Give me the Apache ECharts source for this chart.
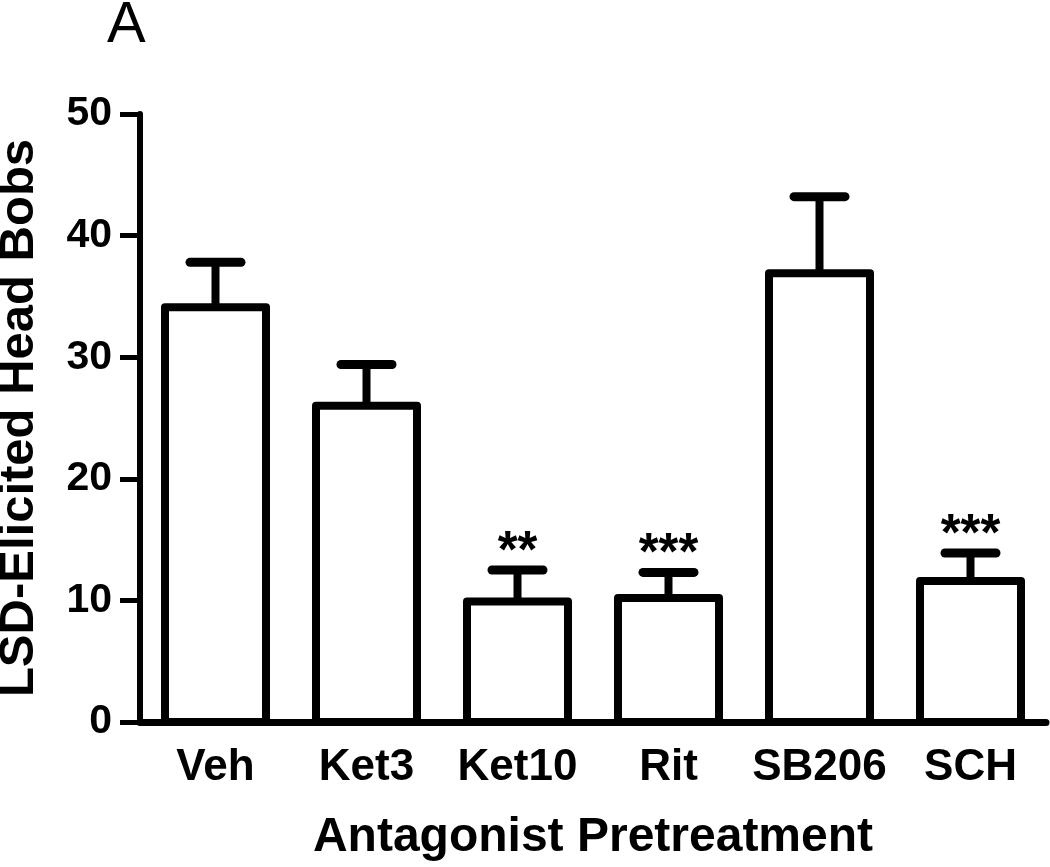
<!DOCTYPE html>
<html><head><meta charset="utf-8">
<script src="https://cdn.jsdelivr.net/npm/echarts@6/dist/echarts.min.js"></script>
<style>html,body{margin:0;padding:0;background:#fff}#c{width:1050px;height:867px}</style>
</head><body><div id="c"></div>
<script>
const categories = ['Veh', 'Ket3', 'Ket10', 'Rit', 'SB206', 'SCH'];
const means = [34.1, 26.0, 9.9, 10.2, 36.9, 11.6];
const errors = [3.7, 3.4, 2.6, 2.1, 6.3, 2.3];
const stars = ['', '', '**', '***', '', '***'];
const yTicks = [0, 10, 20, 30, 40, 50];

const FONT = '"Liberation Sans", Arial, Helvetica, sans-serif';
const chart = echarts.init(document.getElementById('c'));
chart.setOption({
  animation: false,
  backgroundColor: '#fff',
  title: { text: 'A', left: 102, top: -8, textStyle: { fontFamily: FONT, fontSize: 58, fontWeight: 'normal', color: '#000' } },
  grid: { left: 140, right: 4, top: 114, bottom: 145, containLabel: false, outerBoundsMode: 'none' },
  xAxis: {
    type: 'category', data: categories,
    axisLine: { lineStyle: { color: '#000', width: 7 } },
    axisTick: { alignWithLabel: true, interval: 0, length: 20, lineStyle: { color: '#000', width: 5 } },
    axisLabel: { interval: 0, hideOverlap: false, margin: 24, fontFamily: FONT, fontWeight: 'bold', fontSize: 44, color: '#000' },
    name: 'Antagonist Pretreatment', nameLocation: 'middle', nameGap: 92,
    nameTextStyle: { fontFamily: FONT, fontWeight: 'bold', fontSize: 48, color: '#000' }
  },
  yAxis: {
    type: 'value', min: yTicks[0], max: yTicks[yTicks.length - 1], interval: 10,
    splitLine: { show: false },
    axisLine: { show: true, lineStyle: { color: '#000', width: 6 } },
    axisTick: { show: true, length: 20, lineStyle: { color: '#000', width: 5 } },
    axisLabel: { margin: 28, fontFamily: FONT, fontWeight: 'bold', fontSize: 41, color: '#000' },
    name: 'LSD-Elicited Head Bobs', nameLocation: 'middle', nameGap: 96,
    nameTextStyle: { fontFamily: FONT, fontWeight: 'bold', fontSize: 49, color: '#000' }
  },
  series: [
    {
      type: 'custom', z: 3,
      data: means.map((m, i) => [i, m, errors[i]]),
      renderItem: function (params, api) {
        const i = api.value(0), m = api.value(1), e = api.value(2);
        const base = api.coord([i, 0]);
        const top = api.coord([i, m]);
        const etop = api.coord([i, m + e]);
        const halfBar = 50.5, halfCap = 25.5;
        const children = [
          { type: 'line', shape: { x1: top[0], y1: top[1], x2: etop[0], y2: etop[1] }, style: { stroke: '#000', lineWidth: 8 } },
          { type: 'line', shape: { x1: etop[0] - halfCap, y1: etop[1], x2: etop[0] + halfCap, y2: etop[1] }, style: { stroke: '#000', lineWidth: 9, lineCap: 'round' } },
          { type: 'rect', shape: { x: top[0] - halfBar, y: top[1], width: halfBar * 2, height: base[1] - top[1] }, style: { fill: '#fff', stroke: '#000', lineWidth: 8, lineJoin: 'round' } }
        ];
        const s = stars[params.dataIndex];
        if (s) {
          children.push({ type: 'text', style: { text: s, x: etop[0], y: etop[1] - 17.5, align: 'center', verticalAlign: 'middle', font: 'bold 51px ' + FONT, fill: '#000' } });
        }
        return { type: 'group', children: children };
      }
    }
  ]
});
</script></body></html>
